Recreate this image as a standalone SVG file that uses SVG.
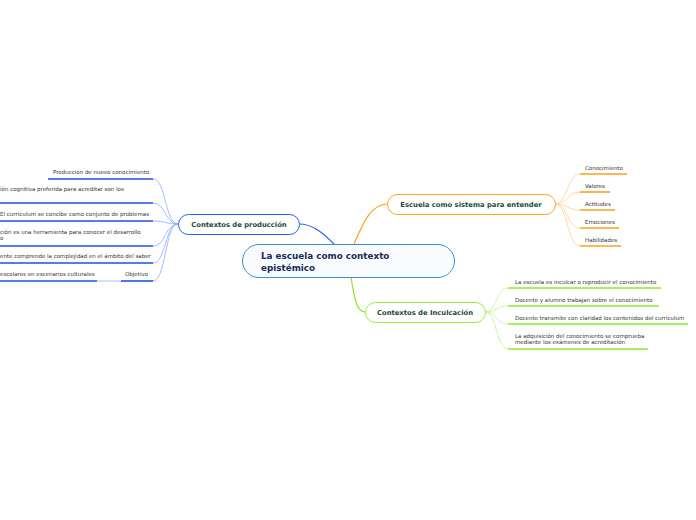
<svg xmlns="http://www.w3.org/2000/svg" width="696" height="520" viewBox="0 0 696 520">
<style>
text{font-family:"DejaVu Sans","Verdana",sans-serif}
.leaf{font-size:5.5px;fill:#333}
.main{font-size:8.8px;font-weight:bold;fill:#1b2a55}
.sub{font-size:6.8px;font-weight:bold;fill:#1d4a3a}
.cb{fill:none;stroke:#8aacff;stroke-width:0.8}
.co{fill:none;stroke:#ffcf8a;stroke-width:0.8}
.cg{fill:none;stroke:#c4f08c;stroke-width:0.8}
.ub{stroke:#1d4fe6;stroke-width:1.6}
.uo{stroke:#ffa010;stroke-width:1.6}
.ug{stroke:#88ee22;stroke-width:1.6}
</style>
<rect width="696" height="520" fill="#fff"/>
<g id="connectors">
<path d="M334,244 C322,232 312,224 299,224" fill="none" stroke="#2a62ee" stroke-width="1.2"/>
<path d="M354,244 C362,226 370,204 387,204" fill="none" stroke="#ffa020" stroke-width="1.2"/>
<path d="M351,277 C354,295 356,312 365,312" fill="none" stroke="#8ee428" stroke-width="1.2"/>
<path class="cb" d="M178,224 C165,224 166,179 153,179"/>
<path class="cb" d="M178,224 C165,224 166,203 153,203"/>
<path class="cb" d="M178,224 C165,224 166,221 153,221"/>
<path class="cb" d="M178,224 C165,224 166,246 153,246"/>
<path class="cb" d="M178,224 C165,224 166,263 153,263"/>
<path class="cb" d="M178,224 C165,224 166,281 153,281"/>
<path d="M97,281 L121,281" stroke="#a8c0ff" stroke-width="1"/>
<path class="co" d="M555,204 C568,204 567,174 580,174"/>
<path class="co" d="M555,204 C568,204 567,192 580,192"/>
<path class="co" d="M555,204 C568,204 567,210 580,210"/>
<path class="co" d="M555,204 C568,204 567,228 580,228"/>
<path class="co" d="M555,204 C568,204 567,246 580,246"/>
<path class="cg" d="M485,312 C497,312 496,288 508,288"/>
<path class="cg" d="M485,312 C497,312 496,306 508,306"/>
<path class="cg" d="M485,312 C497,312 496,324 508,324"/>
<path class="cg" d="M485,312 C497,312 496,349 508,349"/>
</g>
<g id="central">
<rect x="242.5" y="244.5" width="212" height="33" rx="16.5" fill="#f9fcff" stroke="#3d8ed8" stroke-width="1"/>
<text class="main" x="261" y="259">La escuela como contexto</text>
<text class="main" x="261" y="271">epistémico</text>
</g>
<g id="produccion">
<rect x="178.5" y="214.5" width="121" height="20" rx="10" fill="#fff" stroke="#1f5cff" stroke-width="1"/>
<text class="sub" x="239" y="227" text-anchor="middle">Contextos de producción</text>
</g>
<g id="sistema">
<rect x="387.5" y="194.5" width="168" height="20" rx="10" fill="#fff" stroke="#ffa31a" stroke-width="1"/>
<text class="sub" x="471" y="207" text-anchor="middle">Escuela como sistema para entender</text>
</g>
<g id="inculcacion">
<rect x="365.5" y="302.5" width="120" height="20" rx="10" fill="#fff" stroke="#99ee33" stroke-width="1"/>
<text class="sub" x="425" y="315" text-anchor="middle">Contextos de Inculcación</text>
</g>
<g id="p1"><text class="leaf" x="53" y="174">Producción de nuevo conocimiento</text><line class="ub" x1="48" y1="179" x2="153" y2="179"/></g>
<g id="p2"><text class="leaf" x="0" y="191">ión cognitiva preferida para acreditar son los</text><line class="ub" x1="0" y1="203" x2="153" y2="203"/></g>
<g id="p3"><text class="leaf" x="0" y="216">El currículum se concibe como conjunto de problemas</text><line class="ub" x1="0" y1="221" x2="153" y2="221"/></g>
<g id="p4"><text class="leaf" x="0" y="234">ción es una herramienta para conocer el desarrollo</text><text class="leaf" x="0" y="240">o</text><line class="ub" x1="0" y1="246" x2="153" y2="246"/></g>
<g id="p5"><text class="leaf" x="0" y="258">ente comprende la complejidad en el ámbito del saber</text><line class="ub" x1="0" y1="263" x2="153" y2="263"/></g>
<g id="p6"><text class="leaf" x="125" y="276">Objetivo</text><line class="ub" x1="121" y1="281" x2="153" y2="281"/></g>
<g id="p7"><text class="leaf" x="0" y="276">escolares en escenarios culturales</text><line class="ub" x1="0" y1="281" x2="97" y2="281"/></g>
<g id="o1"><text class="leaf" x="585" y="170">Conocimiento</text><line class="uo" x1="580" y1="174" x2="627" y2="174"/></g>
<g id="o2"><text class="leaf" x="585" y="188">Valores</text><line class="uo" x1="580" y1="192" x2="610" y2="192"/></g>
<g id="o3"><text class="leaf" x="585" y="206">Actitudes</text><line class="uo" x1="580" y1="210" x2="615" y2="210"/></g>
<g id="o4"><text class="leaf" x="585" y="224">Emociones</text><line class="uo" x1="580" y1="228" x2="619" y2="228"/></g>
<g id="o5"><text class="leaf" x="585" y="242">Habilidades</text><line class="uo" x1="580" y1="246" x2="621" y2="246"/></g>
<g id="g1"><text class="leaf" x="515" y="284">La escuela es inculcar o reproducir el conocimiento</text><line class="ug" x1="508" y1="288" x2="661" y2="288"/></g>
<g id="g2"><text class="leaf" x="515" y="302">Docente  y alumno trabajan sobre el conocimiento</text><line class="ug" x1="508" y1="306" x2="659" y2="306"/></g>
<g id="g3"><text class="leaf" x="515" y="320">Docente transmite con claridad los contenidos del currículum</text><line class="ug" x1="508" y1="324" x2="688" y2="324"/></g>
<g id="g4"><text class="leaf" x="515" y="338">La adquisición del conocimiento se comprueba</text><text class="leaf" x="515" y="344">mediante los exámenes de acreditación</text><line class="ug" x1="508" y1="349" x2="648" y2="349"/></g>
</svg>
